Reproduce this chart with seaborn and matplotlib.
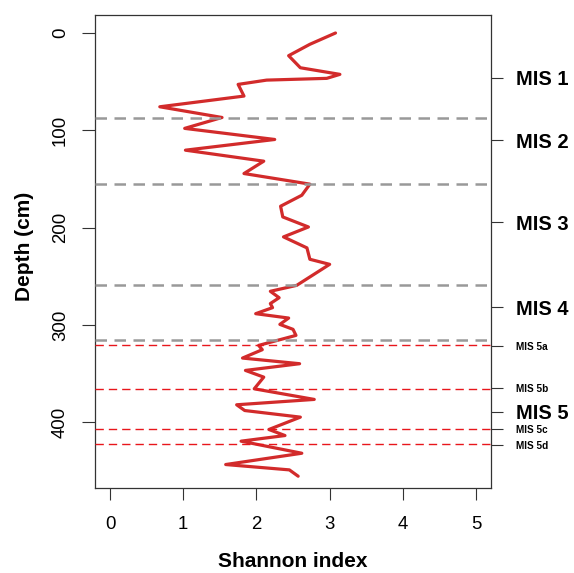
import matplotlib
matplotlib.use("Agg")
import matplotlib.pyplot as plt
import seaborn as sns
import pandas as pd

# ---- data ----
depth = [0, 11.6, 23.3, 35.7, 42.5, 46.6, 48.4, 52.8, 64.8, 75.8,
         86.8, 98, 109.4, 120.4, 131.7, 144.4, 155.3, 166.7, 178, 189,
         199.3, 209.5, 220.8, 232.5, 237.7, 259.3, 265.4, 272, 278, 282.2,
         288.4, 292.9, 299.4, 304.5, 310.7, 321, 325.4, 334, 339.8, 346.7,
         353.6, 365.6, 376.5, 382, 387.9, 394.7, 407.4, 413.6, 419.4, 431.8,
         443.4, 448.9, 455.4]
shannon = [3.08, 2.73, 2.44, 2.60, 3.14, 2.96, 2.14, 1.75, 1.83, 0.68,
           1.53, 1.02, 2.25, 1.03, 2.10, 1.83, 2.73, 2.62, 2.33, 2.36,
           2.71, 2.37, 2.69, 2.73, 3.00, 2.55, 2.19, 2.31, 2.19, 2.22,
           1.99, 2.44, 2.32, 2.50, 2.54, 2.03, 2.08, 1.81, 2.59, 1.85,
           2.10, 1.97, 2.79, 1.73, 1.84, 2.60, 2.17, 2.39, 1.79, 2.62,
           1.58, 2.45, 2.57]

stage_bounds = [87, 155.5, 259, 315]          # grey dashed lines
substage_bounds = [321, 365.5, 407, 422.5]    # red dashed lines
mis_pos = [46, 110, 194.5, 282, 321.7, 365, 389, 406.6, 423]
mis_labels = ["MIS 1", "MIS 2", "MIS 3", "MIS 4", "MIS 5a", "MIS 5b",
              "MIS 5", "MIS 5c", "MIS 5d"]
mis_major = [True, True, True, True, False, False, True, False, False]

x_ticks = [0, 1, 2, 3, 4, 5]
y_ticks = [0, 100, 200, 300, 400]

df = pd.DataFrame({"depth": depth, "shannon": shannon})

sns.set_style("white")
plt.rcParams["font.family"] = ["Liberation Sans", "DejaVu Sans"]
for key in ["text.color", "axes.labelcolor", "xtick.labelcolor", "ytick.labelcolor"]:
    plt.rcParams[key] = "black"

W, H = 574, 573
fig = plt.figure(figsize=(W / 100, H / 100), dpi=100)
left, right, top, bottom = 95, 490.7, 15, 487.5
ax = fig.add_axes([left / W, 1 - bottom / H, (right - left) / W, (bottom - top) / H])

sns.lineplot(data=df, x="shannon", y="depth", orient="y", sort=False,
             estimator=None, color="#D22B2B", linewidth=2.3, ax=ax, zorder=2)

for d in stage_bounds:
    ax.axhline(d, color="#999999", linewidth=1.8, linestyle=(0, (4.6, 3.0)), zorder=3)
for d in substage_bounds:
    ax.axhline(d, color="#E8161C", linewidth=1.0, linestyle=(0, (6.0, 3.6)), zorder=3)

ax.set_xlim(-0.205, 5.2)
ax.set_ylim(467, -18.5)
ax.set_xticks(x_ticks)
ax.set_xticklabels([str(v) for v in x_ticks])
ax.set_yticks(y_ticks)
ax.set_yticklabels([str(v) for v in y_ticks], rotation=90, va="center")

for sp in ax.spines.values():
    sp.set_visible(True)
    sp.set_color("#333333")
    sp.set_linewidth(0.9)

ax.tick_params(axis="x", direction="out", length=8.8, width=0.8, color="#333333",
               labelsize=13.4, pad=11.5, bottom=True)
ax.tick_params(axis="y", direction="out", length=9.2, width=0.8, color="#333333",
               labelsize=13.4, pad=9.5, left=True)

ax.set_xlabel("Shannon index", fontsize=15, fontweight="bold")
ax.set_ylabel("Depth (cm)", fontsize=15, fontweight="bold")
ax.xaxis.set_label_coords(0.5, (bottom - 552) / (bottom - top))
ax.yaxis.set_label_coords((34 - left) / (right - left), 0.51)
ax.grid(False)

ax2 = ax.twinx()
ax2.set_ylim(467, -18.5)
ax2.set_yticks(mis_pos)
ax2.set_yticklabels(mis_labels)
for lab, major in zip(ax2.get_yticklabels(), mis_major):
    lab.set_fontweight("bold")
    lab.set_fontsize(14.5 if major else 7.2)
ax2.tick_params(axis="y", direction="out", length=8.8, width=0.8, color="#333333",
                pad=9.4, right=True)
for sp in ax2.spines.values():
    sp.set_visible(False)
ax2.grid(False)

fig.savefig("out.png", dpi=100)
